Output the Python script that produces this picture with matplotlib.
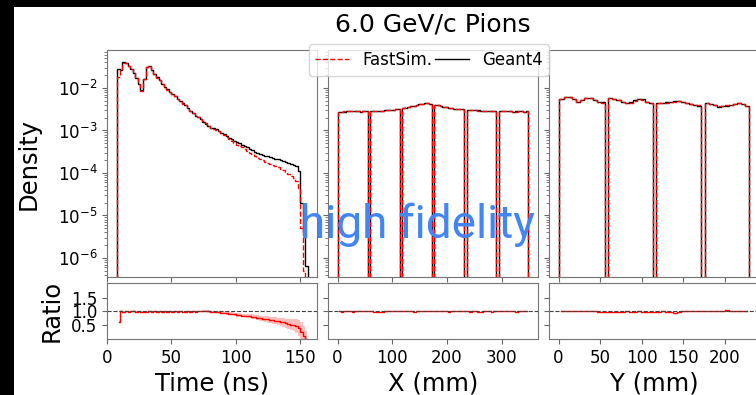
import numpy as np
import matplotlib
matplotlib.use("Agg")
import matplotlib.pyplot as plt
from matplotlib.lines import Line2D
from matplotlib.patches import Rectangle

# time histogram, 2 ns bins from 8 to 156 ns (log10 of density)
time_edges = np.arange(8, 158, 2)
g4_time_log = [-1.55, -1.58, -1.40, -1.42, -1.48, -1.55, -1.65, -1.76, -1.90, -2.05,
               -1.78, -1.50, -1.48, -1.57, -1.67, -1.75, -1.82, -1.90, -1.97, -2.03,
               -2.09, -2.14, -2.20, -2.26, -2.31, -2.36, -2.40, -2.47, -2.54, -2.60,
               -2.65, -2.69, -2.73, -2.79, -2.84, -2.90, -2.93, -2.95, -2.97, -3.01,
               -3.05, -3.09, -3.13, -3.17, -3.21, -3.24, -3.27, -3.30, -3.33, -3.37,
               -3.40, -3.44, -3.47, -3.50, -3.53, -3.55, -3.57, -3.59, -3.61, -3.63,
               -3.64, -3.66, -3.68, -3.70, -3.72, -3.74, -3.77, -3.80, -3.82, -3.84,
               -3.95, -4.70, -5.40, -6.20]
fast_time_log = [-1.75, -1.57, -1.41, -1.42, -1.49, -1.55, -1.64, -1.77, -1.90, -2.06,
                 -1.79, -1.51, -1.48, -1.58, -1.67, -1.76, -1.82, -1.91, -1.97, -2.04,
                 -2.09, -2.15, -2.20, -2.27, -2.31, -2.37, -2.41, -2.47, -2.55, -2.60,
                 -2.66, -2.69, -2.73, -2.78, -2.83, -2.90, -2.94, -2.96, -2.98, -3.02,
                 -3.07, -3.11, -3.16, -3.21, -3.25, -3.29, -3.33, -3.36, -3.40, -3.44,
                 -3.48, -3.52, -3.56, -3.60, -3.64, -3.67, -3.70, -3.73, -3.76, -3.79,
                 -3.81, -3.84, -3.87, -3.91, -3.94, -3.98, -4.03, -4.08, -4.12, -4.18,
                 -4.35, -5.30, -6.30, np.nan]
time_ratio_err = [0.06, 0.02, 0.02, 0.02, 0.02, 0.02, 0.02, 0.02, 0.02, 0.02,
                  0.02, 0.02, 0.02, 0.02, 0.02, 0.02, 0.02, 0.02, 0.02, 0.02,
                  0.02, 0.02, 0.02, 0.03, 0.03, 0.03, 0.03, 0.03, 0.03, 0.03,
                  0.03, 0.03, 0.03, 0.04, 0.04, 0.04, 0.04, 0.04, 0.04, 0.05,
                  0.05, 0.05, 0.05, 0.05, 0.06, 0.06, 0.06, 0.06, 0.07, 0.07,
                  0.07, 0.08, 0.08, 0.08, 0.09, 0.09, 0.10, 0.10, 0.11, 0.11,
                  0.12, 0.13, 0.13, 0.14, 0.15, 0.16, 0.18, 0.20, 0.22, 0.25,
                  0.30, 0.35, 0.35, 0.30]

# X: six modules (mm), 11 bins each, Geant4 density in units of 1e-3
x_blocks = [(1, 55), (60, 114), (118, 172), (177, 231), (236, 290), (295, 349)]
g4_x = [[2.65, 2.72, 2.78, 2.82, 2.85, 2.86, 2.84, 2.80, 2.78, 2.80, 2.82],
        [2.85, 2.88, 2.90, 2.92, 2.93, 2.96, 3.00, 3.04, 3.08, 3.12, 3.15],
        [3.35, 3.45, 3.55, 3.68, 3.82, 3.95, 4.10, 4.25, 4.45, 4.50, 4.30],
        [4.05, 3.90, 3.72, 3.58, 3.48, 3.40, 3.32, 3.25, 3.20, 3.17, 3.15],
        [3.10, 3.08, 3.05, 3.00, 2.97, 2.95, 2.92, 2.90, 2.88, 2.86, 2.84],
        [2.80, 2.82, 2.84, 2.82, 2.80, 2.78, 2.80, 2.82, 2.80, 2.78, 2.80]]
ratio_x = [[1.00, 0.99, 1.01, 1.00, 1.00, 0.99, 1.01, 1.00, 1.00, 1.01, 1.00],
           [1.00, 0.99, 0.98, 0.98, 0.99, 1.00, 1.00, 1.01, 1.00, 1.00, 1.00],
           [1.00, 1.01, 1.00, 1.00, 0.99, 1.00, 1.01, 1.00, 1.00, 1.01, 1.00],
           [1.00, 1.00, 1.01, 1.00, 1.00, 0.99, 1.00, 1.00, 1.01, 1.00, 1.00],
           [1.00, 0.99, 1.00, 1.00, 0.98, 0.99, 1.00, 1.00, 1.00, 0.99, 1.00],
           [1.01, 1.00, 1.00, 1.01, 1.00, 1.00, 0.99, 1.00, 1.01, 1.00, 1.00]]

# Y: four modules (mm)
y_blocks = [(1, 56), (60, 114), (118, 172), (176, 230)]
g4_y = [[5.5, 6.2, 6.1, 5.4, 4.8, 5.1, 5.7, 5.9, 5.2, 4.7, 4.6],
        [5.75, 5.6, 5.2, 4.7, 4.4, 4.6, 5.1, 5.6, 5.4, 4.8, 4.4],
        [4.5, 4.55, 4.6, 4.75, 4.9, 5.0, 4.8, 4.4, 4.1, 3.9, 3.8],
        [4.4, 4.2, 3.9, 3.65, 3.7, 3.85, 3.95, 4.2, 4.4, 4.1, 3.8]]
ratio_y = [[1.00, 1.00, 1.01, 1.00, 1.00, 1.00, 1.01, 1.00, 1.00, 0.99, 0.99],
           [0.99, 0.98, 0.99, 0.99, 1.00, 0.99, 0.99, 1.00, 0.99, 0.98, 0.99],
           [0.99, 1.00, 0.99, 0.98, 0.96, 0.98, 1.00, 1.01, 1.02, 1.01, 1.02],
           [1.02, 1.02, 1.02, 1.03, 1.03, 1.04, 1.03, 1.02, 1.01, 1.01, 1.00]]

W, H = 756, 395
fig = plt.figure(figsize=(W / 100, H / 100), dpi=100)
fig.patch.set_facecolor("black")
fig.add_artist(Rectangle((14 / W, 0), 1, (H - 7) / H, transform=fig.transFigure,
                         facecolor="white", edgecolor="none", zorder=-10))

lefts = [107, 328, 549]
aw = 210
top_axes, rat_axes = [], []
for i, l in enumerate(lefts):
    a = fig.add_axes([l / W, (H - 277) / H, aw / W, 227 / H],
                     sharey=top_axes[0] if top_axes else None)
    r = fig.add_axes([l / W, (H - 339) / H, aw / W, 56 / H], sharex=a)
    top_axes.append(a)
    rat_axes.append(r)

g4_col, fs_col = "black", "red"

# time panel
g4_t = 10.0 ** np.array(g4_time_log)
fs_t = np.nan_to_num(10.0 ** np.array(fast_time_log))
ax = top_axes[0]
ax.set_yscale("log", nonpositive="clip")
ax.stairs(g4_t, time_edges, color=g4_col, lw=1)
ax.stairs(fs_t, time_edges, color=fs_col, lw=1, ls="--")
tc = 0.5 * (time_edges[1:] + time_edges[:-1])
rt = fs_t / g4_t
err = np.array(time_ratio_err)
rat_axes[0].fill_between(tc, rt - err, rt + err, step="mid", color="red", alpha=0.25, lw=0)
rat_axes[0].plot(tc, rt, drawstyle="steps-mid", color="red", lw=1)

# X and Y panels
for k, (blocks, g4, rat) in enumerate([(x_blocks, g4_x, ratio_x), (y_blocks, g4_y, ratio_y)]):
    ax = top_axes[k + 1]
    cs, rs = [], []
    for (a, b), v, r in zip(blocks, g4, rat):
        e = np.linspace(a, b, len(v) + 1)
        v = np.array(v) * 1e-3
        ax.stairs(v, e, color=g4_col, lw=1)
        ax.stairs(v * np.array(r), e, color=fs_col, lw=1, ls="--")
        cs.extend(0.5 * (e[1:] + e[:-1]))
        rs.extend(r)
    rat_axes[k + 1].plot(cs, rs, drawstyle="steps-mid", color="red", lw=1)

top_axes[0].set_ylim(3.57e-7, 0.0783)
top_axes[0].set_xlim(0, 163)
top_axes[1].set_xlim(-17.5, 366.5)
top_axes[2].set_xlim(-11.5, 241.5)
rat_axes[0].set_xticks([0, 50, 100, 150])
rat_axes[1].set_xticks([0, 100, 200, 300])
rat_axes[2].set_xticks([0, 50, 100, 150, 200])

for i, (a, r) in enumerate(zip(top_axes, rat_axes)):
    r.set_ylim(0, 2.03)
    r.set_yticks([0.5, 1.0, 1.5])
    r.axhline(1.0, color="0.25", ls="--", lw=0.8)
    for x in (a, r):
        x.tick_params(labelsize=12, color="0.4")
        x.tick_params(which="minor", color="0.4")
        for s in x.spines.values():
            s.set_color("0.45")
    a.tick_params(labelbottom=False)
    if i > 0:
        a.tick_params(which="both", labelleft=False)
        r.tick_params(labelleft=False)

top_axes[0].set_ylabel("Density", fontsize=17.5)
top_axes[0].yaxis.set_label_coords(-0.316, 0.5)
rat_axes[0].set_ylabel("Ratio", fontsize=17.5)
rat_axes[0].yaxis.set_label_coords(-0.205, 0.5)
for r, lab in zip(rat_axes, ["Time (ns)", "X (mm)", "Y (mm)"]):
    r.set_xlabel(lab, fontsize=17.5)
    r.xaxis.set_label_coords(0.5, -0.579)

fig.text(433 / W, 1 - 31.7 / H, "6.0 GeV/c Pions", fontsize=18, ha="center", va="baseline")

handles = [Line2D([], [], color=fs_col, ls="--", lw=1), Line2D([], [], color=g4_col, lw=1)]
fig.legend(handles, ["FastSim.", "Geant4"], loc="center", bbox_to_anchor=(429 / W, 1 - 60 / H),
           ncol=2, fontsize=12, columnspacing=0.2)

fig.text(300 / W, 1 - 238 / H, "high fidelity", fontsize=33, color="#4285F4",
         family="Roboto", ha="left", va="baseline", zorder=20)

fig.savefig("out.png", dpi=100)
